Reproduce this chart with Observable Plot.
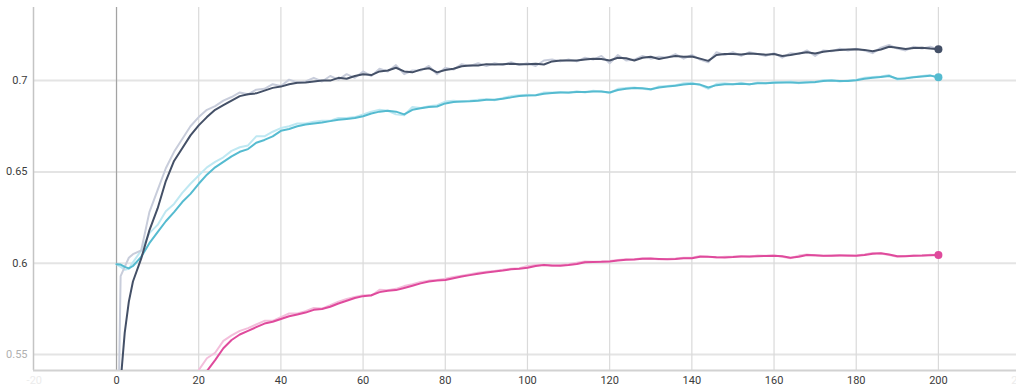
<!DOCTYPE html>
<html><head><meta charset="utf-8">
<script src="https://cdn.jsdelivr.net/npm/d3@7"></script>
<script src="https://cdn.jsdelivr.net/npm/@observablehq/plot@0.6"></script>
<style>
html,body{margin:0;padding:0;background:#fff;overflow:hidden;}
#chart svg{display:block;}
</style></head><body><div id="chart"></div>
<script>
// steps
const stepsDC = [0,1,2,3,4].concat(d3.range(6, 201, 2));
const stepsPink = d3.range(16, 201, 2);

// dark series (smoothed + raw)
const darkSmooth = [0.45, 0.535, 0.562, 0.579, 0.590,
  0.6025, 0.618, 0.630, 0.645, 0.656, 0.663, 0.670, 0.6755, 0.680, 0.684,
  0.6865, 0.689, 0.6915, 0.6925, 0.693, 0.6945, 0.696, 0.6967, 0.698, 0.6988,
  0.699, 0.6995, 0.700, 0.700, 0.7015, 0.701, 0.7025, 0.7035, 0.703, 0.705,
  0.7055, 0.707, 0.705, 0.7045, 0.706, 0.7068, 0.7045, 0.7058, 0.7065, 0.7078,
  0.7082, 0.7083, 0.709, 0.7088, 0.709, 0.7092, 0.709, 0.709, 0.7092, 0.7088,
  0.7105, 0.711, 0.711, 0.711, 0.7115, 0.712, 0.7118, 0.711, 0.7125, 0.7122,
  0.711, 0.7125, 0.713, 0.7118, 0.7127, 0.7135, 0.713, 0.7132, 0.712, 0.7108,
  0.714, 0.7145, 0.7145, 0.7143, 0.7148, 0.7146, 0.7142, 0.7145, 0.7135, 0.714,
  0.7148, 0.7155, 0.7148, 0.7158, 0.7163, 0.7168, 0.717, 0.7172, 0.7168, 0.716,
  0.717, 0.7185, 0.718, 0.7173, 0.7178, 0.718, 0.7175, 0.7172];
const darkRaw = [0.45, 0.593, 0.598, 0.603, 0.605,
  0.607, 0.628, 0.640, 0.652, 0.661, 0.668, 0.675, 0.680, 0.684, 0.686,
  0.689, 0.691, 0.6935, 0.6925, 0.695, 0.6955, 0.698, 0.697, 0.7005, 0.699,
  0.6995, 0.7015, 0.6995, 0.7025, 0.7005, 0.7035, 0.7015, 0.705, 0.7025, 0.7065,
  0.705, 0.7085, 0.7035, 0.7055, 0.7055, 0.708, 0.7035, 0.707, 0.706, 0.709,
  0.708, 0.7095, 0.708, 0.7095, 0.7085, 0.71, 0.7085, 0.7095, 0.708, 0.711,
  0.7115, 0.7105, 0.7115, 0.7105, 0.7125, 0.7115, 0.7135, 0.7095, 0.714, 0.711,
  0.7115, 0.7135, 0.712, 0.713, 0.7125, 0.7145, 0.712, 0.714, 0.7115, 0.71,
  0.7155, 0.714, 0.7155, 0.7135, 0.7155, 0.7145, 0.7135, 0.715, 0.7125, 0.715,
  0.7145, 0.7165, 0.7135, 0.7165, 0.716, 0.7175, 0.7165, 0.7175, 0.7165, 0.715,
  0.718, 0.7195, 0.7175, 0.7165, 0.7185, 0.7175, 0.7185, 0.717];

// cyan series
const cyanSmooth = [0.5995, 0.5993, 0.598, 0.5972, 0.5985,
  0.6035, 0.611, 0.617, 0.623, 0.628, 0.6335, 0.638, 0.6435, 0.6485, 0.6525,
  0.6555, 0.6585, 0.661, 0.6625, 0.666, 0.6675, 0.6695, 0.6725, 0.6735, 0.675,
  0.676, 0.6765, 0.677, 0.6778, 0.6785, 0.679, 0.6795, 0.6805, 0.682, 0.683,
  0.6835, 0.683, 0.6815, 0.684, 0.6848, 0.6855, 0.6858, 0.6875, 0.6883, 0.6885,
  0.6887, 0.689, 0.6895, 0.6895, 0.69, 0.6908, 0.6915, 0.6918, 0.692, 0.6928,
  0.6932, 0.6935, 0.6935, 0.6938, 0.6937, 0.694, 0.694, 0.6935, 0.6948, 0.6955,
  0.696, 0.6958, 0.6952, 0.6962, 0.6967, 0.6972, 0.6978, 0.6982, 0.6978, 0.6962,
  0.6975, 0.698, 0.698, 0.6982, 0.698, 0.6985, 0.6985, 0.6988, 0.699, 0.699,
  0.6988, 0.699, 0.6992, 0.6998, 0.7, 0.6998, 0.6998, 0.7002, 0.701, 0.7015,
  0.702, 0.7025, 0.701, 0.7012, 0.7018, 0.7022, 0.7027, 0.7018];
const cyanRaw = [0.5995, 0.598, 0.5965, 0.597, 0.6005,
  0.607, 0.6165, 0.621, 0.6285, 0.6325, 0.6385, 0.6435, 0.648, 0.6525, 0.6555,
  0.658, 0.6615, 0.6635, 0.6645, 0.6695, 0.6695, 0.672, 0.674, 0.675, 0.6765,
  0.6765, 0.6775, 0.678, 0.678, 0.6795, 0.6795, 0.68, 0.6815, 0.683, 0.684,
  0.6835, 0.6815, 0.681, 0.6855, 0.685, 0.686, 0.6865, 0.6885, 0.689, 0.6885,
  0.689, 0.6895, 0.6898, 0.6892, 0.6905, 0.6915, 0.692, 0.6922, 0.692, 0.6935,
  0.6935, 0.6938, 0.6932, 0.6942, 0.6935, 0.6945, 0.694, 0.6932, 0.6955, 0.696,
  0.6962, 0.6955, 0.695, 0.6968, 0.697, 0.6975, 0.6985, 0.6988, 0.6975, 0.6955,
  0.6982, 0.6985, 0.698, 0.6988, 0.6978, 0.699, 0.6985, 0.6992, 0.699, 0.6995,
  0.6985, 0.6993, 0.699, 0.7003, 0.7002, 0.6995, 0.7, 0.7005, 0.7015, 0.702,
  0.7022, 0.703, 0.7005, 0.7015, 0.702, 0.7025, 0.703, 0.7015];

// pink series
const pinkSmooth = [0.515, 0.525, 0.533, 0.541, 0.547, 0.5535, 0.558, 0.561, 0.563, 0.565,
  0.567, 0.568, 0.5695, 0.571, 0.572, 0.573, 0.5745, 0.575, 0.5762, 0.578,
  0.5795, 0.581, 0.582, 0.5825, 0.5842, 0.585, 0.5853, 0.5865, 0.5877, 0.589,
  0.59, 0.5905, 0.5908, 0.5918, 0.5927, 0.5935, 0.5943, 0.595, 0.5955, 0.596,
  0.5967, 0.597, 0.5975, 0.5985, 0.599, 0.5988, 0.5986, 0.599, 0.5996, 0.6006,
  0.6007, 0.6008, 0.601, 0.6015, 0.6019, 0.602, 0.6025, 0.6026, 0.6024, 0.6022,
  0.6024, 0.6027, 0.6028, 0.6036, 0.6036, 0.6033, 0.6032, 0.6034, 0.6037, 0.6037,
  0.6039, 0.604, 0.6041, 0.6038, 0.603, 0.6036, 0.6045, 0.6044, 0.6041, 0.6041,
  0.6043, 0.6042, 0.6041, 0.6045, 0.6052, 0.6055, 0.6048, 0.6038, 0.6038, 0.6041,
  0.6042, 0.6044, 0.6045];
const pinkRaw = [0.525, 0.535, 0.5415, 0.548, 0.551, 0.5575, 0.5605, 0.563, 0.5645, 0.5665,
  0.5685, 0.5685, 0.5705, 0.5725, 0.5725, 0.5738, 0.5755, 0.5752, 0.577, 0.579,
  0.5805, 0.5815, 0.5825, 0.5822, 0.5855, 0.5852, 0.586, 0.5875, 0.5885, 0.5898,
  0.5905, 0.5908, 0.5915, 0.5925, 0.5932, 0.594, 0.5948, 0.5953, 0.5958, 0.5965,
  0.597, 0.5973, 0.5985, 0.599, 0.5992, 0.5985, 0.599, 0.5995, 0.6003, 0.601,
  0.6008, 0.601, 0.6012, 0.6018, 0.6022, 0.6022, 0.6028, 0.6025, 0.6022, 0.6024,
  0.6026, 0.603, 0.603, 0.604, 0.6035, 0.6032, 0.6035, 0.6036, 0.604, 0.6036,
  0.6042, 0.6041, 0.6042, 0.6036, 0.6028, 0.6042, 0.6048, 0.6042, 0.604, 0.6043,
  0.6045, 0.604, 0.6043, 0.6048, 0.6056, 0.6054, 0.6045, 0.6036, 0.604, 0.6043,
  0.6041, 0.6046, 0.6045];

// axes
const xTicks = [0, 20, 40, 60, 80, 100, 120, 140, 160, 180, 200];
const xEdgeTicks = [-20, 220];
const yTicks = [0.6, 0.65, 0.7];
const yEdgeTicks = [0.55];
const xDomain = [-20.2, 219];
const yDomain = [0.5413, 0.74];

const seriesDefs = [
  {name: "pink", steps: stepsPink, smooth: pinkSmooth, raw: pinkRaw, color: "#df4a9c", light: "#f3bedb"},
  {name: "cyan", steps: stepsDC, smooth: cyanSmooth, raw: cyanRaw, color: "#55bbd0", light: "#bfe8f2"},
  {name: "dark", steps: stepsDC, smooth: darkSmooth, raw: darkRaw, color: "#445067", light: "#c8cddb"}
];

const problems = [];
const marks = [
  Plot.gridY(yTicks.concat(yEdgeTicks), {stroke: "#e4e4e4", strokeOpacity: 1, strokeWidth: 2}),
  Plot.gridX(xTicks, {stroke: "#dadada", strokeOpacity: 1, strokeWidth: 1.2}),
  Plot.ruleX([0], {stroke: "#a3a3a3", strokeWidth: 1.2}),
  Plot.ruleX([xDomain[0]], {stroke: "#c4c4c4", strokeWidth: 1.5}),
  Plot.ruleY([yDomain[0]], {stroke: "#d2d2d2", strokeWidth: 2}),
  Plot.axisY(yTicks, {tickSize: 0, tickPadding: 6, tickFormat: d => String(d), fill: "#3c3c3c", label: null}),
  Plot.axisY(yEdgeTicks, {tickSize: 0, tickPadding: 6, tickFormat: d => String(d), fill: "#b0b0b0", label: null}),
  Plot.axisX(xTicks, {tickSize: 0, tickPadding: 6, tickFormat: d => String(d), fill: "#3c3c3c", label: null}),
  Plot.axisX(xEdgeTicks, {tickSize: 0, tickPadding: 6, tickFormat: d => String(d), fill: "#ececec", label: null})
];
for (const s of seriesDefs) {
  if (s.smooth.length !== s.steps.length || s.raw.length !== s.steps.length)
    problems.push(s.name + ": steps " + s.steps.length + " smooth " + s.smooth.length + " raw " + s.raw.length);
  const rawData = s.steps.map((st, i) => ({step: st, value: s.raw[i]}));
  marks.push(Plot.line(rawData, {x: "step", y: "value", stroke: s.light, strokeWidth: 2, clip: true}));
}
for (const s of seriesDefs) {
  const smData = s.steps.map((st, i) => ({step: st, value: s.smooth[i]}));
  marks.push(Plot.line(smData, {x: "step", y: "value", stroke: s.color, strokeWidth: 2, clip: true}));
  marks.push(Plot.dot(smData.slice(-1), {x: "step", y: "value", fill: s.color, r: 4}));
}

const chart = Plot.plot({
  width: 1016, height: 388,
  marginLeft: 33, marginRight: 0, marginTop: 7, marginBottom: 18,
  x: {domain: xDomain, label: null},
  y: {domain: yDomain, label: null},
  style: {fontFamily: "Roboto, 'Noto Sans', sans-serif", fontSize: "11px", background: "#fff", overflow: "hidden"},
  marks
});
document.getElementById("chart").append(chart);
if (problems.length) {
  const p = document.createElement("div"); p.textContent = problems.join("; "); p.style.color = "red";
  document.body.prepend(p);
}
</script></body></html>
